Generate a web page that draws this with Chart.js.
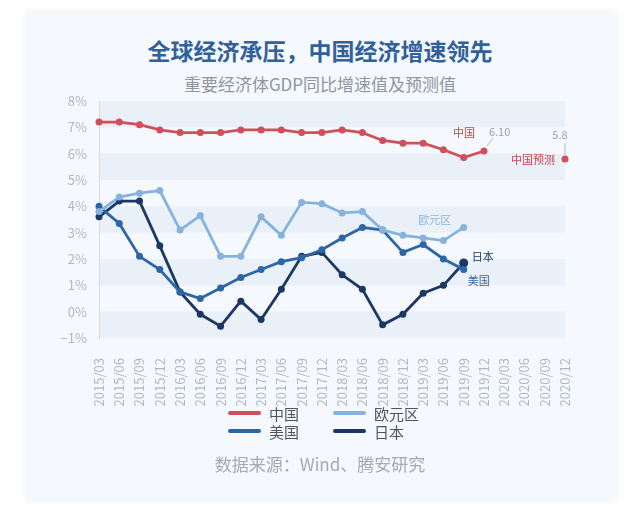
<!DOCTYPE html>
<html lang="zh-CN">
<head>
<meta charset="utf-8">
<script src="https://cdn.jsdelivr.net/npm/chart.js@4.4.1/dist/chart.umd.min.js"></script>
<style>
  html, body { margin: 0; padding: 0; background: #ffffff; }
  body {
    width: 640px;
    height: 527px;
    position: relative;
    overflow: hidden;
    font-family: "Noto Sans CJK SC", "Noto Sans", sans-serif;
  }
  .card {
    position: absolute;
    left: 26px;
    top: 12px;
    width: 590px;
    height: 488px;
    background: #f5f8fc;
    border-radius: 4px;
    box-shadow: 0 0 6px rgba(150, 170, 200, 0.2);
  }
  #chart { position: absolute; left: 0; top: 0; }
  .text-line { position: absolute; left: 0; width: 640px; text-align: center; }
  .title { top: 35px; font-size: 23px; line-height: 30px; font-weight: 700; color: #30619a; }
  .subtitle { top: 73px; font-size: 17px; line-height: 22px; color: #90969f; }
  .source { top: 452px; font-size: 17px; line-height: 24px; color: #a5a9b1; }
  .legend {
    position: absolute;
    left: 228px;
    top: 404px;
    display: grid;
    grid-template-columns: 105px 105px;
    grid-auto-rows: 18px;
  }
  .legend-item { display: flex; align-items: center; font-size: 15px; color: #4f555e; }
  .legend-line { width: 33px; height: 4px; border-radius: 2px; margin-right: 8px; }
</style>
</head>
<body>
<div class="card"></div>
<div class="text-line title">全球经济承压，中国经济增速领先</div>
<div class="text-line subtitle">重要经济体GDP同比增速值及预测值</div>
<canvas id="chart" width="640" height="527"></canvas>
<div class="legend" id="legend"></div>
<div class="text-line source">数据来源：Wind、腾安研究</div>

<script>
  const quarters = [
    "2015/03", "2015/06", "2015/09", "2015/12",
    "2016/03", "2016/06", "2016/09", "2016/12",
    "2017/03", "2017/06", "2017/09", "2017/12",
    "2018/03", "2018/06", "2018/09", "2018/12",
    "2019/03", "2019/06", "2019/09", "2019/12",
    "2020/03", "2020/06", "2020/09", "2020/12",
  ];

  const seriesNames = ["中国", "欧元区", "美国", "日本"];
  const forecastName = "中国预测";

  const chinaGdp = [7.2, 7.2, 7.1, 6.9, 6.8, 6.8, 6.8, 6.9, 6.9, 6.9, 6.8, 6.8, 6.9, 6.8, 6.5, 6.4, 6.4, 6.15, 5.85, 6.1];
  const euroGdp = [3.8, 4.35, 4.5, 4.6, 3.1, 3.65, 2.1, 2.1, 3.6, 2.9, 4.15, 4.1, 3.75, 3.8, 3.1, 2.9, 2.8, 2.7, 3.2];
  const usGdp = [4.0, 3.35, 2.1, 1.6, 0.75, 0.5, 0.9, 1.3, 1.6, 1.9, 2.05, 2.35, 2.8, 3.2, 3.1, 2.25, 2.55, 2.0, 1.6];
  const japanGdp = [3.6, 4.2, 4.2, 2.5, 0.75, -0.1, -0.55, 0.4, -0.3, 0.85, 2.1, 2.25, 1.4, 0.85, -0.5, -0.1, 0.7, 1.0, 1.85];
  const chinaForecast = 5.8;

  const yMin = -1;
  const yMax = 8;

  const colors = {
    china: "#cf505b",
    euro: "#86b3de",
    us: "#2c66a6",
    japan: "#1b3864",
  };

  const forecastData = quarters.map((q, i) => (i === quarters.length - 1 ? chinaForecast : null));

  function lineDataset(label, data, color, bigLast) {
    return {
      label,
      data,
      borderColor: color,
      backgroundColor: color,
      borderWidth: 2.8,
      pointRadius: (c) => (bigLast && c.dataIndex === data.length - 1 ? 4.5 : 3.5),
      pointBorderWidth: 0,
      tension: 0,
      clip: false,
    };
  }

  // bands between every other y tick
  const bandPlugin = {
    id: "bands",
    beforeDraw(chart) {
      const { ctx, chartArea } = chart;
      const y = chart.scales.y;
      ctx.save();
      ctx.fillStyle = "#eaf0f8";
      for (let i = 0; i < y.ticks.length - 1; i++) {
        if (i % 2 !== 0) continue;
        const bottom = y.getPixelForValue(y.ticks[i].value);
        const top = y.getPixelForValue(y.ticks[i + 1].value);
        ctx.fillRect(chartArea.left, top, chartArea.right - chartArea.left, bottom - top);
      }
      ctx.restore();
    },
  };

  function drawText(ctx, text, x, y, color, align) {
    ctx.fillStyle = color;
    ctx.textAlign = align;
    ctx.textBaseline = "middle";
    ctx.fillText(text, x, y);
  }

  function lastPoint(chart, index) {
    const pts = chart.getDatasetMeta(index).data;
    return pts[pts.length - 1];
  }

  const labelPlugin = {
    id: "seriesLabels",
    afterDatasetsDraw(chart) {
      const { ctx } = chart;
      ctx.save();
      ctx.font = "11px 'Noto Sans CJK SC', sans-serif";
      ctx.strokeStyle = "#b4b9c1";
      ctx.lineWidth = 1;

      const china = lastPoint(chart, 0);
      drawText(ctx, seriesNames[0], china.x - 20, china.y - 18, "#c4474f", "center");
      drawText(ctx, chinaGdp[chinaGdp.length - 1].toFixed(2), china.x + 5, china.y - 19, "#9aa0a8", "left");
      ctx.beginPath();
      ctx.moveTo(china.x + 3, china.y - 5);
      ctx.lineTo(china.x + 9, china.y - 13);
      ctx.stroke();

      const fc = lastPoint(chart, 4);
      drawText(ctx, chinaForecast.toFixed(1), fc.x - 5, fc.y - 24, "#9aa0a8", "center");
      ctx.beginPath();
      ctx.moveTo(fc.x, fc.y - 4);
      ctx.lineTo(fc.x, fc.y - 16);
      ctx.stroke();
      drawText(ctx, forecastName, fc.x - 10, fc.y + 1, "#c4474f", "right");

      const euro = lastPoint(chart, 1);
      drawText(ctx, seriesNames[1], euro.x - 29, euro.y - 8, "#8fb6dc", "center");

      const us = lastPoint(chart, 2);
      drawText(ctx, seriesNames[2], us.x + 4, us.y + 11, colors.us, "left");

      const japan = lastPoint(chart, 3);
      drawText(ctx, seriesNames[3], japan.x + 8, japan.y - 6, colors.japan, "left");
      ctx.restore();
    },
  };

  const chart = new Chart(document.getElementById("chart"), {
    type: "line",
    data: {
      labels: quarters,
      datasets: [
        lineDataset(seriesNames[0], chinaGdp, colors.china, false),
        lineDataset(seriesNames[1], euroGdp, colors.euro, false),
        lineDataset(seriesNames[2], usGdp, colors.us, false),
        lineDataset(seriesNames[3], japanGdp, colors.japan, true),
        Object.assign(lineDataset(forecastName, forecastData, colors.china, false), { showLine: false }),
      ],
    },
    options: {
      responsive: false,
      animation: false,
      devicePixelRatio: 1,
      layout: { padding: { top: 101, left: 59, right: 75, bottom: 89 } },
      plugins: {
        legend: { display: false },
        tooltip: { enabled: false },
      },
      scales: {
        x: {
          offset: false,
          grid: { display: false },
          border: { display: false },
          afterFit: (scale) => { scale.height = 100; },
          ticks: {
            autoSkip: false,
            minRotation: 90,
            maxRotation: 90,
            padding: 12,
            color: "#b3b8c0",
            font: { size: 13, family: "'Noto Sans CJK SC', sans-serif" },
          },
        },
        y: {
          min: yMin,
          max: yMax,
          grid: { display: false, drawTicks: false },
          border: { display: true, color: "#d6dce4", width: 1 },
          afterFit: (scale) => { scale.width = 40; },
          ticks: {
            stepSize: 1,
            padding: 12,
            color: "#b3b8c0",
            font: { size: 13, family: "'Noto Sans CJK SC', sans-serif" },
            callback: (v) => (v < 0 ? "\u2212" + Math.abs(v) : v) + "%",
          },
        },
      },
    },
    plugins: [bandPlugin, labelPlugin],
  });

  const legendBox = document.getElementById("legend");
  chart.data.datasets
    .filter((ds) => ds.label !== forecastName)
    .forEach((ds) => {
      const item = document.createElement("div");
      item.className = "legend-item";
      item.innerHTML = `<span class="legend-line" style="background:${ds.borderColor}"></span>${ds.label}`;
      legendBox.appendChild(item);
    });
</script>
</body>
</html>
